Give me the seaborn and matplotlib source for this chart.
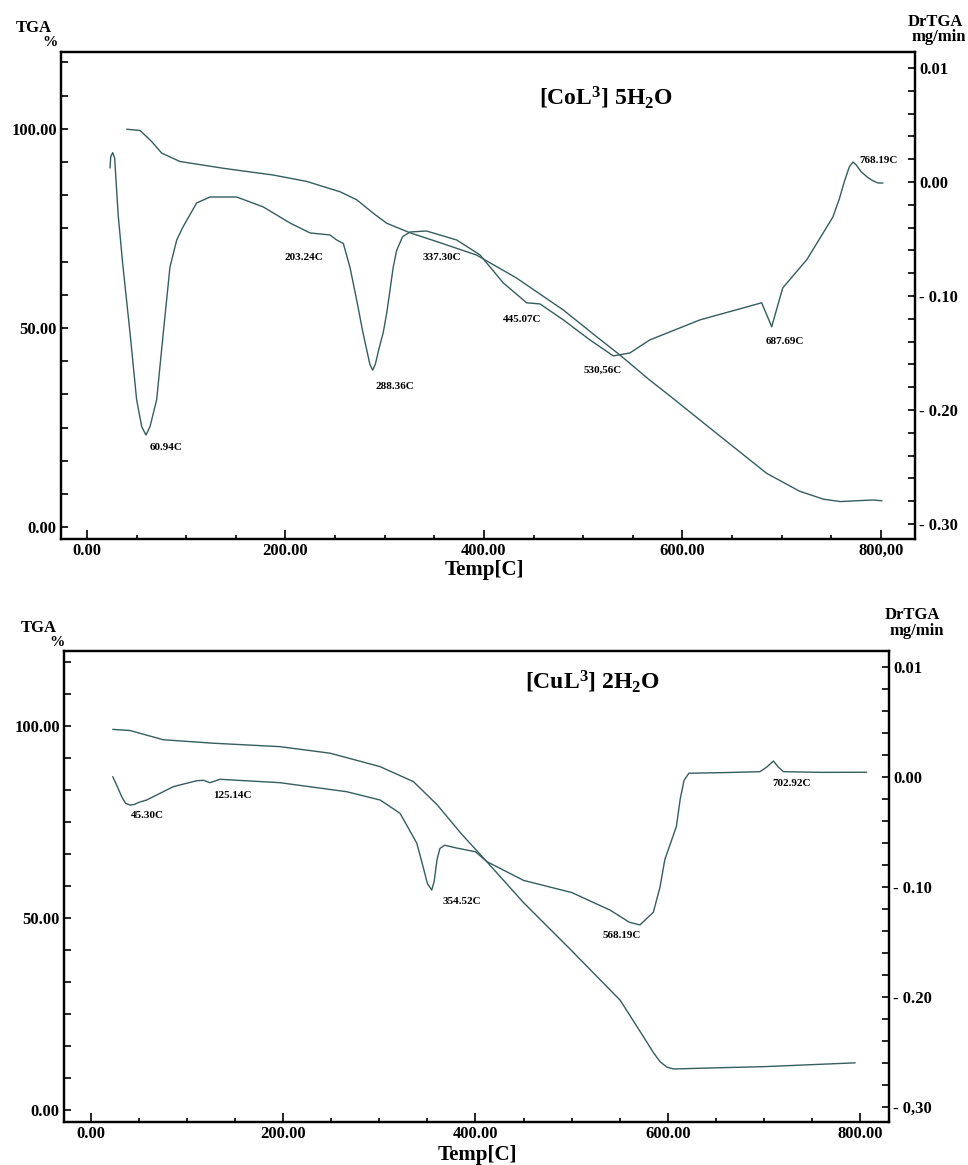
import matplotlib
matplotlib.use("Agg")
import matplotlib.pyplot as plt
import seaborn as sns
import numpy as np
import pandas as pd
from matplotlib.ticker import MultipleLocator, FixedLocator, FixedFormatter

# ---------------- data: [CoL3] 5H2O ----------------
co_tga_temp = [40, 53.4, 65.2, 75.3, 93.7, 137.3, 187.7, 221.3, 255, 271.7, 288.5, 302,
               325.4, 352.3, 392.6, 433, 480, 513.5, 537, 567, 584, 634.5, 684.8, 718,
               742, 759, 775, 792, 801]
co_tga_pct = [99.9, 99.6, 96.8, 93.9, 91.8, 90.1, 88.4, 86.8, 84.2, 82.2, 78.8, 76.3,
              73.9, 71.7, 68.3, 62.5, 54.5, 47.8, 43.2, 36.9, 33.6, 23.5, 13.5, 9.0,
              7.0, 6.4, 6.6, 6.8, 6.6]
co_dtg_temp = [23.2, 23.9, 25.9, 27.9, 29.2, 31.5, 36.3, 43.3, 50, 55.1, 59.4, 63.5, 70.2,
               76.9, 83.6, 90.4, 96.7, 110.5, 124, 150.8, 177.6, 204.5, 224.7, 244.8, 251.6,
               258.3, 265, 271.7, 278, 281.8, 285, 287.8, 290.5, 294, 298.5, 302, 305.3,
               308.5, 312, 318, 325.4, 342, 372.5, 396, 419.5, 443, 456.4, 480, 506.8, 530.3,
               547, 567, 617.6, 679.8, 689.9, 701, 725.4, 751.6, 758, 763, 768, 771.8, 775,
               780, 786, 792, 797, 802]
co_dtg_val = [0.0123, 0.0222, 0.0257, 0.0208, 0.0018, -0.030, -0.0746, -0.132, -0.191,
              -0.2146, -0.222, -0.2146, -0.191, -0.132, -0.0746, -0.0509, -0.0395, -0.0184,
              -0.0132, -0.0132, -0.0219, -0.036, -0.0447, -0.0465, -0.0509, -0.054, -0.075,
              -0.1035, -0.132, -0.147, -0.160, -0.165, -0.160, -0.147, -0.132, -0.115,
              -0.095, -0.075, -0.060, -0.048, -0.0439, -0.043, -0.0509, -0.064, -0.0886,
              -0.106, -0.107, -0.121, -0.1386, -0.1526, -0.15, -0.1386, -0.121, -0.106,
              -0.127, -0.093, -0.068, -0.0307, -0.015, 0.0, 0.013, 0.0175, 0.015, 0.009,
              0.0044, 0.001, -0.0009, -0.0009]
co_peaks = ["60.94C", "203.24C", "288.36C", "337.30C", "445.07C", "530,56C", "687.69C", "768.19C"]

# ---------------- data: [CuL3] 2H2O ----------------
cu_tga_temp = [22.6, 40.6, 75.2, 127, 196.7, 248.7, 300.7, 335.4, 360, 385, 412, 450, 500,
               550.5, 575, 585, 592, 599, 606, 650, 699.6, 795]
cu_tga_pct = [99.1, 98.8, 96.4, 95.5, 94.6, 92.9, 89.4, 85.5, 79.5, 72.0, 64.6, 54.0, 41.5,
              28.6, 19.0, 15.0, 12.6, 11.2, 10.7, 11.0, 11.3, 12.3]
cu_dtg_temp = [22.6, 27, 32, 36, 40.6, 45, 50, 58, 85.6, 110, 117, 123.8, 134.2, 196.7, 266,
               300.7, 321.5, 339, 345, 350, 354.5, 357, 360, 363, 368, 380, 400, 412, 450,
               500, 540, 560, 571, 585, 592, 597, 603, 609, 613, 617, 622, 660, 696, 703,
               710, 715, 720.5, 760, 807]
cu_dtg_val = [0.0003, -0.008, -0.018, -0.024, -0.0255, -0.025, -0.023, -0.0209, -0.0088,
              -0.0034, -0.003, -0.0052, -0.0021, -0.0052, -0.0134, -0.0209, -0.033, -0.0603,
              -0.080, -0.097, -0.1027, -0.095, -0.075, -0.065, -0.062, -0.0645, -0.068,
              -0.077, -0.094, -0.105, -0.121, -0.132, -0.1345, -0.123, -0.100, -0.075,
              -0.060, -0.045, -0.020, -0.003, 0.0034, 0.0040, 0.0048, 0.009, 0.0145, 0.009,
              0.0048, 0.0042, 0.0043]
cu_peaks = ["45.30C", "125.14C", "354.52C", "568.19C", "702.92C"]

# ---------------- tick labels ----------------
x_major = [0, 200, 400, 600, 800]
co_xlabels = ["0.00", "200.00", "400.00", "600.00", "800,00"]
cu_xlabels = ["0.00", "200.00", "400.00", "600.00", "800.00"]
l_major = [0, 50, 100]
l_labels = ["0.00", "50.00", "100.00"]
r_major = [-0.3, -0.2, -0.1, 0.0, 0.1]
co_rlabels = ["- 0.30", "- 0.20", "- 0.10", "0.00", "0.01"]
cu_rlabels = ["- 0,30", "- 0.20", "- 0.10", "0.00", "0.01"]

# ---------------- style ----------------
sns.set_style("ticks")
plt.rcParams["font.family"] = ["Liberation Serif", "DejaVu Serif"]
plt.rcParams["font.weight"] = "bold"
plt.rcParams["mathtext.fontset"] = "custom"
plt.rcParams["mathtext.rm"] = "Liberation Serif:bold"
plt.rcParams["mathtext.bf"] = "Liberation Serif:bold"
plt.rcParams["mathtext.it"] = "Liberation Serif:bold:italic"
plt.rcParams["axes.edgecolor"] = "black"
plt.rcParams["xtick.color"] = "black"
plt.rcParams["ytick.color"] = "black"
plt.rcParams["text.color"] = "black"

LINE = "#355d5d"
W, H = 968, 1165


def fx(px):
    return px / W


def fy(py):
    return 1 - py / H


fig = plt.figure(figsize=(W / 100, H / 100), dpi=100)


def make_panel(rect, tga_t, tga_p, dtg_t, dtg_v, xlim, ylim_l, ylim_r, xlabels, rlabels):
    ax = fig.add_axes(rect)
    axr = ax.twinx()
    sns.lineplot(x=tga_t, y=tga_p, ax=ax, color=LINE, lw=1.0, sort=False, estimator=None)
    sns.lineplot(x=dtg_t, y=dtg_v, ax=axr, color=LINE, lw=1.0, sort=False, estimator=None)
    ax.set_xlim(*xlim)
    ax.set_ylim(*ylim_l)
    axr.set_ylim(*ylim_r)
    for a in (ax, axr):
        a.set_xlabel("")
        a.set_ylabel("")
        for s in a.spines.values():
            s.set_visible(True)
            s.set_linewidth(1.6)
            s.set_color("black")
    ax.xaxis.set_major_locator(FixedLocator(x_major))
    ax.xaxis.set_major_formatter(FixedFormatter(xlabels))
    ax.xaxis.set_minor_locator(MultipleLocator(50))
    ax.yaxis.set_major_locator(FixedLocator(l_major))
    ax.yaxis.set_major_formatter(FixedFormatter(l_labels))
    ax.yaxis.set_minor_locator(MultipleLocator(50 / 6))
    axr.yaxis.set_major_locator(FixedLocator(r_major))
    axr.yaxis.set_major_formatter(FixedFormatter(rlabels))
    axr.yaxis.set_minor_locator(MultipleLocator(0.02))
    ax.tick_params(axis="x", which="major", direction="in", length=6.5, width=1.2,
                   labelsize=12, pad=3, top=False)
    ax.tick_params(axis="x", which="minor", direction="in", length=3.2, width=1.2, top=False)
    ax.tick_params(axis="y", which="both", direction="in", length=5, width=1.2,
                   labelsize=12, pad=3, right=False)
    axr.tick_params(axis="y", which="both", direction="in", length=5, width=1.2,
                    labelsize=12, pad=3, left=False)
    for lab in ax.get_xticklabels() + ax.get_yticklabels() + axr.get_yticklabels():
        lab.set_fontweight("bold")
    return ax, axr


# top panel
make_panel([61 / W, 1 - 539 / H, (915 - 61) / W, (539 - 52) / H],
           co_tga_temp, co_tga_pct, co_dtg_temp, co_dtg_val,
           (-26.2, 834.3), (-3.0, 119.3), (-0.3132, 0.114), co_xlabels, co_rlabels)
# bottom panel
make_panel([64 / W, 1 - 1122 / H, (889 - 64) / W, (1122 - 651) / H],
           cu_tga_temp, cu_tga_pct, cu_dtg_temp, cu_dtg_val,
           (-28.1, 830.2), (-3.1, 119.5), (-0.3136, 0.1145), cu_xlabels, cu_rlabels)


def t(px, py, s, size, **kw):
    fig.text(fx(px), fy(py), s, ha=kw.pop("ha", "center"), va="center",
             fontsize=size, fontweight="bold", **kw)


# axis titles / units
t(34, 28, "TGA", 12)
t(50, 43, "%", 11)
t(935, 22, "DrTGA", 12)
t(939, 37, "mg/min", 12)
t(39, 628, "TGA", 12)
t(57, 643, "%", 11)
t(912, 615, "DrTGA", 12)
t(917, 631, "mg/min", 12)
t(484, 570, "Temp[C]", 15)
t(477, 1155, "Temp[C]", 15)

# compound titles
t(606, 98, r"[CoL$^{3}$] 5H$_{2}$O", 17)
t(593, 682, r"[CuL$^{3}$] 2H$_{2}$O", 17)

# peak annotations
co_pos = [(166, 448), (304, 257), (395, 387), (442, 258), (522, 320), (603, 370), (785, 342), (879, 161)]
for (px, py), s in zip(co_pos, co_peaks):
    t(px, py, s, 8)
cu_pos = [(147, 816), (232, 795), (462, 901), (622, 936), (792, 784)]
for (px, py), s in zip(cu_pos, cu_peaks):
    t(px, py, s, 8)

fig.savefig("out.png", dpi=100)
